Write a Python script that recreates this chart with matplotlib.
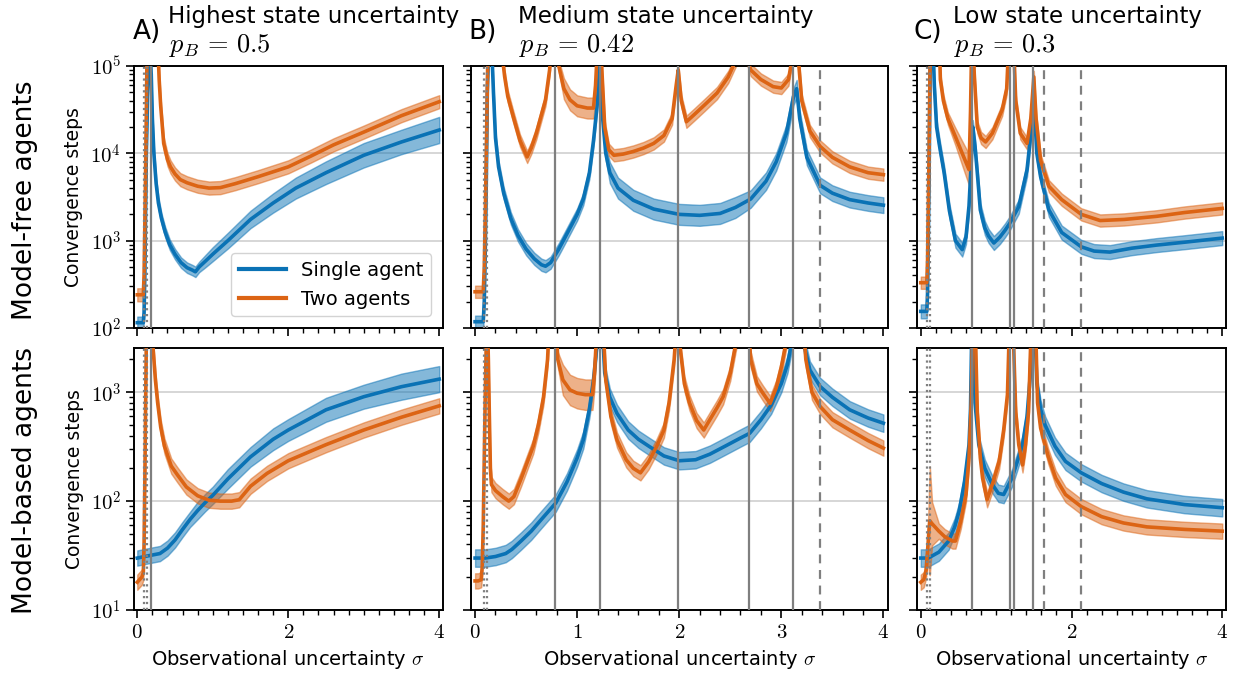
import numpy as np
import matplotlib
matplotlib.use("Agg")
import matplotlib.pyplot as plt
from matplotlib.ticker import FuncFormatter, MultipleLocator, LogLocator, NullFormatter
from matplotlib.lines import Line2D

plt.rcParams["mathtext.fontset"] = "cm"
plt.rcParams["font.family"] = "DejaVu Sans"

BLUE = "#0a72b5"
ORANGE = "#dc6414"
GRAY = "#7f7f7f"

# ---------------- Panel A (p_B = 0.5) ----------------
a_mf_single_x = [0.0, 0.04, 0.08, 0.09, 0.10, 0.11, 0.12, 0.14, 0.16, 0.185, 0.20, 0.22, 0.25, 0.28, 0.32, 0.37,
                 0.43, 0.50, 0.58, 0.66, 0.73, 0.77, 0.82, 0.90, 1.0, 1.2, 1.5, 1.8, 2.1, 2.5, 3.0, 3.5, 4.0]
a_mf_single = [115, 115, 115, 150, 400, 2000, 10000, 60000, 200000, 80000, 25000, 10000, 4500, 2700, 1800, 1250,
               900, 700, 560, 490, 460, 440, 500, 580, 700, 1000, 1750, 2700, 4000, 6000, 9500, 13500, 18500]
a_mf_single_bw = [0.07, 0.07, 0.07, 0.07, 0.07, 0.07, 0.07, 0.07, 0.07, 0.07, 0.07, 0.07, 0.07, 0.07, 0.06, 0.06,
                  0.06, 0.06, 0.06, 0.06, 0.06, 0.06, 0.06, 0.07, 0.08, 0.09, 0.10, 0.11, 0.12, 0.13, 0.14, 0.14, 0.15]

a_mf_two_x = [0.0, 0.04, 0.08, 0.09, 0.10, 0.11, 0.12, 0.13, 0.20, 0.27, 0.29, 0.31, 0.35, 0.40, 0.44, 0.50, 0.57,
              0.66, 0.80, 0.95, 1.10, 1.30, 1.60, 2.0, 2.3, 2.6, 3.0, 3.5, 4.0]
a_mf_two = [240, 240, 240, 400, 1500, 6000, 30000, 150000, 300000, 200000, 70000, 35000, 13000, 8500, 7000, 5800,
            5000, 4600, 4200, 4000, 4050, 4500, 5400, 7000, 9300, 12500, 17500, 27000, 39000]
a_mf_two_bw = 0.075

a_mb_single_x = [0.0, 0.1, 0.2, 0.3, 0.4, 0.5, 0.6, 0.7, 0.8, 0.9, 1.0, 1.2, 1.5, 1.8, 2.0, 2.5, 3.0, 3.5, 4.0]
a_mb_single = [30, 31, 32, 33, 37, 44, 55, 68, 82, 97, 113, 160, 255, 370, 450, 690, 910, 1125, 1320]
a_mb_single_bw = [0.07, 0.07, 0.07, 0.07, 0.07, 0.07, 0.07, 0.07, 0.08, 0.08, 0.08, 0.09, 0.09, 0.10, 0.10,
                  0.11, 0.11, 0.12, 0.12]

a_mb_two_x = [0.0, 0.03, 0.06, 0.08, 0.09, 0.10, 0.11, 0.12, 0.13, 0.17, 0.19, 0.21, 0.24, 0.27, 0.31, 0.36, 0.45,
              0.53, 0.65, 0.80, 0.95, 1.10, 1.25, 1.35, 1.50, 1.72, 2.0, 2.5, 3.0, 3.5, 4.0]
a_mb_two = [18, 19, 20, 22, 40, 150, 700, 3000, 10000, 10000, 5000, 2500, 1300, 800, 480, 320, 210,
            175, 135, 112, 102, 100, 100, 103, 137, 180, 235, 330, 450, 590, 750]
a_mb_two_bw = 0.07

# ---------------- Panel B (p_B = 0.42) ----------------
b_mf_single_x = [0.0, 0.04, 0.08, 0.09, 0.10, 0.11, 0.12, 0.14, 0.17, 0.18, 0.20, 0.23, 0.28, 0.35, 0.42, 0.50,
                 0.58, 0.65, 0.69, 0.74, 0.82, 0.90, 1.0, 1.06, 1.12, 1.16, 1.20, 1.22, 1.25, 1.28, 1.32, 1.40,
                 1.55, 1.75, 2.0, 2.2, 2.4, 2.55, 2.7, 2.85, 2.95, 3.05, 3.12, 3.15, 3.18, 3.25, 3.38, 3.5, 3.67,
                 3.85, 4.0]
b_mf_single = [118, 118, 118, 200, 800, 5000, 50000, 300000, 100000, 50000, 15000, 7000, 3500, 1800, 1150, 800,
               620, 530, 510, 560, 800, 1200, 2000, 3000, 6000, 14000, 40000, 100000, 25000, 10000, 6000, 4000,
               2900, 2300, 2000, 1950, 2050, 2400, 3000, 4800, 8000, 17000, 45000, 55000, 25000, 9000, 4300, 3500,
               2950, 2700, 2550]
b_mf_single_bw = [0.07, 0.07, 0.07, 0.07, 0.07, 0.07, 0.07, 0.07, 0.07, 0.07, 0.07, 0.07, 0.07, 0.07, 0.07, 0.07,
                  0.07, 0.07, 0.07, 0.07, 0.07, 0.07, 0.07, 0.07, 0.07, 0.07, 0.07, 0.08, 0.08, 0.08, 0.12, 0.12,
                  0.12, 0.12, 0.12, 0.12, 0.12, 0.12, 0.10, 0.10, 0.10, 0.10, 0.10, 0.10, 0.09, 0.09, 0.09, 0.09,
                  0.09, 0.09, 0.09]

b_mf_two_x = [0.0, 0.04, 0.08, 0.09, 0.10, 0.11, 0.12, 0.13, 0.24, 0.26, 0.29, 0.32, 0.375, 0.44, 0.51, 0.55,
              0.60, 0.69, 0.73, 0.75, 0.80, 0.82, 0.87, 0.93, 1.0, 1.1, 1.16, 1.18, 1.21, 1.24, 1.27, 1.31, 1.36,
              1.45, 1.55, 1.65, 1.75, 1.85, 1.93, 1.97, 1.99, 2.02, 2.07, 2.15, 2.25, 2.37, 2.48, 2.56, 2.64, 2.70,
              2.80, 2.92, 3.0, 3.07, 3.12, 3.16, 3.20, 3.28, 3.38, 3.5, 3.67, 3.85, 4.0]
b_mf_two = [260, 260, 260, 500, 2000, 10000, 60000, 300000, 300000, 150000, 75000, 45000, 26000, 14000, 9100, 11500,
            17000, 41000, 90000, 200000, 200000, 100000, 55000, 41000, 35000, 33000, 33000, 60000, 300000, 100000,
            20000, 11000, 9500, 9800, 10500, 11500, 13000, 16000, 25000, 60000, 90000, 40000, 23000, 28000, 36000,
            49000, 75000, 120000, 150000, 90000, 70000, 58000, 56000, 70000, 150000, 150000, 40000, 18000, 12000,
            9000, 7000, 6000, 5700]
b_mf_two_bw = [0.07, 0.07, 0.07, 0.07, 0.07, 0.07, 0.07, 0.07, 0.07, 0.07, 0.07, 0.07, 0.07, 0.07, 0.07, 0.07,
               0.07, 0.07, 0.07, 0.07, 0.07, 0.07, 0.12, 0.12, 0.12, 0.12, 0.12, 0.12, 0.07, 0.07, 0.07, 0.07,
               0.07, 0.07, 0.07, 0.07, 0.07, 0.07, 0.07, 0.07, 0.07, 0.07, 0.07, 0.07, 0.07, 0.07, 0.07, 0.07,
               0.07, 0.07, 0.07, 0.07, 0.07, 0.07, 0.07, 0.07, 0.07, 0.07, 0.07, 0.07, 0.07, 0.07, 0.07]

b_mb_single_x = [0.0, 0.1, 0.2, 0.3, 0.36, 0.45, 0.55, 0.65, 0.79, 0.9, 1.0, 1.06, 1.12, 1.16, 1.19, 1.21, 1.24,
                 1.27, 1.32, 1.39, 1.5, 1.6, 1.71, 1.85, 2.0, 2.16, 2.3, 2.45, 2.6, 2.69, 2.8, 2.9, 3.0, 3.06, 3.1,
                 3.14, 3.2, 3.22, 3.28, 3.38, 3.5, 3.67, 3.85, 4.0]
b_mb_single = [30, 30, 31, 33, 36, 43, 53, 68, 96, 150, 250, 365, 700, 1300, 2500, 5000, 5000, 1500, 900, 640,
               450, 370, 316, 260, 235, 240, 270, 320, 380, 420, 560, 760, 1200, 1800, 2800, 5000, 5000, 2800,
               1600, 1130, 900, 690, 580, 520]
b_mb_single_bw = 0.08

b_mb_two_x = [0.0, 0.03, 0.06, 0.07, 0.08, 0.09, 0.10, 0.11, 0.12, 0.13, 0.14, 0.15, 0.16, 0.20, 0.27, 0.33, 0.38,
              0.45, 0.52, 0.57, 0.62, 0.67, 0.71, 0.73, 0.79, 0.81, 0.86, 0.93, 1.0, 1.08, 1.15, 1.17, 1.20, 1.25,
              1.28, 1.33, 1.39, 1.48, 1.55, 1.62, 1.70, 1.78, 1.85, 1.90, 1.95, 1.98, 2.01, 2.05, 2.10, 2.17, 2.24,
              2.30, 2.37, 2.43, 2.50, 2.56, 2.59, 2.67, 2.70, 2.76, 2.82, 2.89, 2.95, 3.0, 3.05, 3.07, 3.21, 3.24,
              3.30, 3.38, 3.5, 3.67, 3.85, 4.0]
b_mb_two = [18.5, 18.5, 19, 25, 60, 250, 1000, 3000, 5000, 2000, 600, 200, 142, 125, 110, 100, 110, 160, 240, 320,
            500, 900, 2000, 5000, 5000, 2000, 1300, 1050, 980, 950, 950, 1500, 5000, 5000, 1300, 600, 365, 240, 200,
            182, 230, 320, 450, 800, 2000, 5000, 2500, 1200, 800, 550, 450, 560, 720, 910, 1500, 3000, 5000, 5000,
            2000, 1200, 980, 790, 1100, 1700, 3000, 5000, 5000, 2000, 1000, 740, 560, 450, 360, 307]
b_mb_two_bw = [0.07, 0.07, 0.07, 0.07, 0.07, 0.07, 0.07, 0.07, 0.07, 0.07, 0.07, 0.07, 0.07, 0.07, 0.07, 0.07,
               0.07, 0.07, 0.07, 0.07, 0.07, 0.07, 0.07, 0.07, 0.07, 0.07, 0.14, 0.14, 0.14, 0.14, 0.14, 0.14,
               0.07, 0.07, 0.07, 0.07, 0.07, 0.07, 0.07, 0.07, 0.07, 0.07, 0.07, 0.07, 0.07, 0.07, 0.07, 0.07,
               0.07, 0.07, 0.07, 0.07, 0.07, 0.07, 0.07, 0.07, 0.07, 0.07, 0.07, 0.07, 0.07, 0.07, 0.07, 0.07,
               0.07, 0.07, 0.07, 0.07, 0.07, 0.07, 0.07, 0.07, 0.07, 0.07]

# ---------------- Panel C (p_B = 0.3) ----------------
c_mf_single_x = [0.0, 0.04, 0.08, 0.09, 0.10, 0.11, 0.12, 0.13, 0.16, 0.18, 0.21, 0.25, 0.31, 0.38, 0.46, 0.55,
                 0.60, 0.64, 0.67, 0.69, 0.72, 0.75, 0.79, 0.85, 0.90, 0.97, 1.05, 1.12, 1.18, 1.30, 1.41, 1.47,
                 1.50, 1.54, 1.59, 1.70, 1.87, 2.13, 2.30, 2.51, 2.80, 3.13, 3.50, 4.0]
c_mf_single = [155, 155, 155, 250, 1000, 5000, 40000, 300000, 200000, 60000, 20000, 12000, 6000, 2200, 1000, 790,
               1100, 2500, 8000, 20000, 12000, 6000, 2250, 1400, 1130, 940, 1100, 1320, 1580, 2450, 6500, 20000,
               41000, 10000, 5400, 2250, 1240, 850, 760, 740, 820, 890, 960, 1070]
c_mf_single_bw = 0.08

c_mf_two_x = [0.0, 0.04, 0.08, 0.09, 0.10, 0.11, 0.12, 0.13, 0.24, 0.26, 0.30, 0.36, 0.46, 0.55, 0.64, 0.66, 0.68,
              0.71, 0.75, 0.80, 0.86, 0.95, 1.08, 1.14, 1.17, 1.23, 1.26, 1.32, 1.41, 1.46, 1.50, 1.53, 1.59, 1.70,
              1.87, 2.13, 2.38, 2.70, 3.13, 3.50, 4.0]
c_mf_two = [330, 330, 330, 600, 2500, 10000, 60000, 300000, 300000, 70000, 40000, 25000, 15500, 10000, 6500, 30000,
            300000, 80000, 20000, 15000, 13500, 17000, 31500, 55000, 200000, 200000, 40000, 17000, 13000, 25000,
            75000, 25000, 8300, 4200, 2950, 2000, 1700, 1750, 1900, 2100, 2340]
c_mf_two_bw = [0.07, 0.07, 0.07, 0.07, 0.07, 0.07, 0.07, 0.07, 0.07, 0.07, 0.07, 0.07, 0.10, 0.14, 0.18, 0.07,
               0.07, 0.07, 0.07, 0.07, 0.07, 0.07, 0.07, 0.07, 0.07, 0.07, 0.07, 0.07, 0.07, 0.07, 0.07, 0.07,
               0.07, 0.07, 0.07, 0.07, 0.07, 0.07, 0.07, 0.07, 0.07]

c_mb_single_x = [0.0, 0.1, 0.24, 0.37, 0.45, 0.51, 0.58, 0.64, 0.66, 0.68, 0.70, 0.72, 0.77, 0.85, 0.95, 1.03,
                 1.10, 1.21, 1.28, 1.35, 1.41, 1.45, 1.48, 1.51, 1.54, 1.59, 1.65, 1.78, 1.92, 2.13, 2.40, 2.69,
                 3.0, 3.5, 4.0]
c_mb_single = [30, 30, 34, 43, 58, 81, 150, 330, 700, 5000, 3000, 800, 330, 200, 142, 118, 115, 163, 230, 330,
               600, 1350, 5000, 5000, 1200, 700, 500, 320, 232, 182, 145, 121, 105, 93, 87]
c_mb_single_bw = 0.08

c_mb_two_x = [0.0, 0.04, 0.07, 0.09, 0.11, 0.12, 0.15, 0.24, 0.32, 0.42, 0.46, 0.53, 0.60, 0.64, 0.67, 0.69,
              0.72, 0.75, 0.79, 0.82, 0.88, 0.96, 1.04, 1.10, 1.15, 1.18, 1.22, 1.26, 1.30, 1.35, 1.39, 1.43, 1.47,
              1.52, 1.55, 1.59, 1.69, 1.79, 1.92, 2.13, 2.40, 2.69, 3.0, 3.5, 4.0]
c_mb_two = [18, 19, 23, 35, 55, 66, 62, 53, 47, 43, 43, 65, 115, 250, 800, 5000, 5000, 660, 250, 163, 103, 150,
            232, 450, 950, 5000, 5000, 660, 330, 215, 330, 660, 5000, 5000, 800, 470, 260, 163, 115, 89, 72, 63,
            58, 55, 53]
c_mb_two_bw = [0.07, 0.07, 0.07, 0.10, 0.40, 0.50, 0.20, 0.07, 0.07, 0.07, 0.07, 0.07, 0.07, 0.07, 0.07, 0.07,
               0.07, 0.07, 0.07, 0.07, 0.07, 0.07, 0.07, 0.07, 0.07, 0.07, 0.07, 0.07, 0.07, 0.07, 0.07, 0.07,
               0.07, 0.07, 0.07, 0.07, 0.07, 0.07, 0.07, 0.07, 0.07, 0.07, 0.07, 0.07, 0.07]

# reference lines per panel (same in both rows)
a_dotted, a_solid, a_dashed = [0.09, 0.13], [0.18], []
b_dotted, b_solid, b_dashed = [0.09, 0.12], [0.787, 1.225, 1.99, 2.68, 3.11], [3.38]
c_dotted, c_solid, c_dashed = [0.08, 0.123], [0.68, 1.18, 1.234, 1.485], [1.63, 2.13]

panel_letters = ["A)", "B)", "C)"]
panel_titles = ["Highest state uncertainty", "Medium state uncertainty", "Low state uncertainty"]
panel_pb = [r"$p_B \,=\, 0.5$", r"$p_B \,=\, 0.42$", r"$p_B \,=\, 0.3$"]
row_labels = ["Model-free agents", "Model-based agents"]

W, H = 1233, 684


def add_axes_px(fig, left, top, right, bottom):
    return fig.add_axes([left / W, 1 - bottom / H, (right - left) / W, (bottom - top) / H])


def draw_series(ax, x, y, bw, color):
    x = np.asarray(x, dtype=float)
    y = np.asarray(y, dtype=float)
    f = 10 ** np.asarray(bw, dtype=float)
    ax.fill_between(x, y / f, y * f, color=color, alpha=0.5, lw=1.0, zorder=2)
    ax.plot(x, y, color=color, lw=2.6, zorder=3, solid_joinstyle="round")


def style_axes(ax, row, show_ylabels, major_x):
    ax.set_yscale("log")
    if row == 0:
        ax.set_ylim(1e2, 1e5)
    else:
        ax.set_ylim(1e1, 2550)
    ax.yaxis.set_major_locator(LogLocator(base=10, numticks=10))
    ax.yaxis.set_minor_locator(LogLocator(base=10, subs=np.arange(2, 10), numticks=20))
    ax.yaxis.set_minor_formatter(NullFormatter())
    ax.yaxis.set_major_formatter(FuncFormatter(lambda v, p: r"$10^{%d}$" % round(np.log10(v))))
    ax.xaxis.set_major_locator(MultipleLocator(major_x))
    ax.xaxis.set_minor_locator(MultipleLocator(0.2))
    ax.xaxis.set_major_formatter(FuncFormatter(lambda v, p: r"$%d$" % round(v)))
    ax.tick_params(which="major", direction="out", length=6, width=1.2, labelsize=15, pad=3)
    ax.tick_params(which="minor", direction="out", length=3.5, width=1.0)
    ax.tick_params(labelleft=show_ylabels, labelbottom=(row == 1))
    ax.yaxis.grid(True, which="major", color="#d0d0d0", lw=1.2, zorder=0)
    for s in ax.spines.values():
        s.set_linewidth(1.4)


fig = plt.figure(figsize=(W / 100, H / 100), dpi=100)

cols = [(133.5, 443, (-0.05, 4.05), 2), (471, 888, (-0.04, 4.045), 1), (917, 1226, (-0.05, 4.05), 2)]
rows = [(66, 328), (348, 610)]

data = [
    [(a_mf_single_x, a_mf_single, a_mf_single_bw, a_mf_two_x, a_mf_two, a_mf_two_bw),
     (a_mb_single_x, a_mb_single, a_mb_single_bw, a_mb_two_x, a_mb_two, a_mb_two_bw)],
    [(b_mf_single_x, b_mf_single, b_mf_single_bw, b_mf_two_x, b_mf_two, b_mf_two_bw),
     (b_mb_single_x, b_mb_single, b_mb_single_bw, b_mb_two_x, b_mb_two, b_mb_two_bw)],
    [(c_mf_single_x, c_mf_single, c_mf_single_bw, c_mf_two_x, c_mf_two, c_mf_two_bw),
     (c_mb_single_x, c_mb_single, c_mb_single_bw, c_mb_two_x, c_mb_two, c_mb_two_bw)],
]
vlines = [(a_dotted, a_solid, a_dashed), (b_dotted, b_solid, b_dashed), (c_dotted, c_solid, c_dashed)]

for ci, (left, right, xlim, major_x) in enumerate(cols):
    for ri, (top, bottom) in enumerate(rows):
        ax = add_axes_px(fig, left, top, right, bottom)
        style_axes(ax, ri, ci == 0, major_x)
        ax.set_xlim(*xlim)

        sx, sy, sbw, tx, ty, tbw = data[ci][ri]
        draw_series(ax, sx, sy, sbw, BLUE)
        draw_series(ax, tx, ty, tbw, ORANGE)

        dotted, solid, dashed = vlines[ci]
        for xv in dotted:
            ax.axvline(xv, color=GRAY, ls=":", lw=1.6, zorder=4)
        for xv in solid:
            ax.axvline(xv, color=GRAY, ls="-", lw=1.6, zorder=4)
        for xv in dashed:
            ax.axvline(xv, color=GRAY, ls=(0, (4, 3)), lw=1.6, zorder=4)

        if ri == 1:
            ax.set_xlabel(r"Observational uncertainty $\sigma$", fontsize=14, labelpad=4)
        if ci == 0:
            ax.set_ylabel("Convergence steps", fontsize=13.5, labelpad=5)
        if ci == 0 and ri == 0:
            handles = [Line2D([], [], color=BLUE, lw=3), Line2D([], [], color=ORANGE, lw=3)]
            ax.legend(handles, ["Single agent", "Two agents"], loc="lower right", fontsize=14,
                      handlelength=2.4, borderaxespad=0.6, framealpha=0.85, edgecolor="#cccccc")

# panel titles
title_pos = [(133, 168), (468, 518), (914, 953)]
for (lx, tx), letter, title, pb in zip(title_pos, panel_letters, panel_titles, panel_pb):
    fig.text(lx / W, 1 - 39 / H, letter, fontsize=19, va="baseline", ha="left")
    fig.text(tx / W, 1 - 23 / H, title, fontsize=16.5, va="baseline", ha="left")
    fig.text((tx + 1) / W, 1 - 52 / H, pb, fontsize=19, va="baseline", ha="left")

# row labels
fig.text(25 / W, 1 - 200 / H, row_labels[0], rotation=90, fontsize=19, va="center", ha="center")
fig.text(25 / W, 1 - 481 / H, row_labels[1], rotation=90, fontsize=19, va="center", ha="center")

fig.savefig("out.png", dpi=100)
